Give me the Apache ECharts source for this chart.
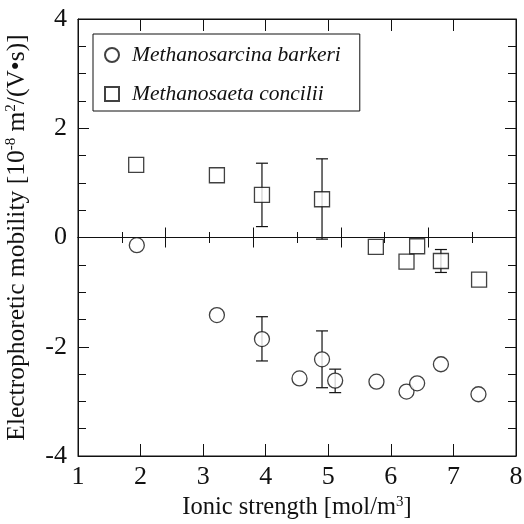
<!DOCTYPE html>
<html>
<head>
<meta charset="utf-8">
<script src="https://cdn.jsdelivr.net/npm/echarts@6/dist/echarts.min.js"></script>
<style>
  html, body { margin: 0; padding: 0; background: #fff; }
  #draw { width: 524px; height: 524px; }
</style>
</head>
<body>
<div id="draw"></div>
<script>
// values
var xTicks = [1, 2, 3, 4, 5, 6, 7, 8];
var yTicks = [-4, -2, 0, 2, 4];

var barkeriX = [1.94, 3.22, 3.94, 4.54, 4.90, 5.11, 5.77, 6.25, 6.42, 6.80, 7.40];
var barkeriY = [-0.14, -1.42, -1.86, -2.58, -2.23, -2.62, -2.64, -2.82, -2.67, -2.32, -2.87];
// [x, low, high]
var barkeriErr = [[3.94, -2.26, -1.45], [4.90, -2.75, -1.71], [5.11, -2.84, -2.41]];

var conciliiX = [1.93, 3.22, 3.94, 4.90, 5.76, 6.25, 6.42, 6.80, 7.41];
var conciliiY = [1.33, 1.14, 0.78, 0.70, -0.17, -0.44, -0.16, -0.43, -0.77];
var conciliiErr = [[3.94, 0.20, 1.36], [4.90, -0.03, 1.44], [6.80, -0.64, -0.22]];

var names = ['Methanosarcina barkeri', 'Methanosaeta concilii'];

var serif = 'Liberation Serif';
var black = '#111';

function pairs(xs, ys) {
	return xs.map(function(x, i) { return [x, ys[i]]; });
}

function renderBar(params, api) {
	var x = api.value(0);
	var lo = api.coord([x, api.value(1)]);
	var hi = api.coord([x, api.value(2)]);
	var w = 6;
	var st = { stroke: black, lineWidth: 1.2 };
	return {
		type: 'group',
		children: [
			{ type: 'line', shape: { x1: lo[0], y1: lo[1], x2: hi[0], y2: hi[1] }, style: st },
			{ type: 'line', shape: { x1: lo[0] - w, y1: lo[1], x2: lo[0] + w, y2: lo[1] }, style: st },
			{ type: 'line', shape: { x1: hi[0] - w, y1: hi[1], x2: hi[0] + w, y2: hi[1] }, style: st }
		]
	};
}

var supRich = {
	sup: { fontFamily: serif, fontSize: 15, lineHeight: 14, verticalAlign: 'top', color: black }
};

var lineSt = { color: black, width: 1 };

// frame axes (ticks inside), plus the two hidden-label axes drawn on y = 0
function frameX(pos, labels) {
	return {
		type: 'value', position: pos, min: xTicks[0], max: xTicks[xTicks.length - 1], interval: 1,
		axisLine: { show: true, onZero: false, lineStyle: lineSt },
		axisTick: { show: true, inside: true, length: 12, lineStyle: lineSt },
		axisLabel: { show: labels, fontFamily: serif, fontSize: 26, color: black, margin: 8 },
		splitLine: { show: false }
	};
}
function zeroX(pos) {
	return {
		type: 'value', position: pos, min: 0, max: 10, interval: 2,
		axisLine: { show: true, onZero: true, onZeroAxisIndex: 0, lineStyle: lineSt },
		axisTick: { show: true, inside: true, length: 10, lineStyle: lineSt },
		minorTick: { show: true, splitNumber: 2, length: 5.5, lineStyle: lineSt },
		axisLabel: { show: false },
		splitLine: { show: false }
	};
}
function frameY(pos, labels) {
	return {
		type: 'value', position: pos, min: yTicks[0], max: yTicks[yTicks.length - 1], interval: 2,
		axisLine: { show: true, onZero: false, lineStyle: lineSt },
		axisTick: { show: true, inside: true, length: 11, lineStyle: lineSt },
		minorTick: { show: true, splitNumber: 4, length: 8, lineStyle: lineSt },
		axisLabel: { show: labels, fontFamily: serif, fontSize: 26, color: black, margin: 11 },
		splitLine: { show: false }
	};
}

var xMain = frameX('bottom', true);
xMain.name = 'Ionic strength [mol/m{sup|3}]';
xMain.nameLocation = 'middle';
xMain.nameGap = 38;
xMain.nameTextStyle = { fontFamily: serif, fontSize: 24.5, color: black, rich: supRich };

var yMain = frameY('left', true);
yMain.name = 'Electrophoretic mobility [10{sup|-8} m{sup|2}/(V\u2022s)]';
yMain.nameLocation = 'middle';
yMain.nameRotate = 90;
yMain.nameGap = 48;
yMain.nameTextStyle = { fontFamily: serif, fontSize: 25.5, color: black, rich: supRich };

var markStyle = { color: '#fff', borderColor: black, borderWidth: 1.3 };

var myChart = echarts.init(document.getElementById('draw'));
option = {
	animation: false,
	backgroundColor: '#fff',
	grid: {
		left: 78, right: 8, top: 19, bottom: 68,
		outerBoundsMode: 'none',
		show: true, borderColor: black, borderWidth: 1
	},
	legend: {
		orient: 'vertical',
		left: 93,
		top: 34,
		padding: [10, 19, 6, 11],
		itemGap: 17,
		itemWidth: 14,
		itemHeight: 14,
		backgroundColor: '#fff',
		borderColor: black,
		borderWidth: 1,
		borderRadius: 0,
		data: [ { name: names[0], icon: 'circle' }, { name: names[1], icon: 'rect' } ],
		textStyle: { fontFamily: serif, fontStyle: 'italic', fontSize: 21.5, color: black, lineHeight: 21, padding: [0, 0, 0, 8] }
	},
	xAxis: [ xMain, frameX('top', false), zeroX('bottom'), zeroX('top') ],
	yAxis: [ yMain, frameY('right', false) ],
	series: [ {
		type: 'custom',
		name: 'errBarkeri',
		renderItem: renderBar,
		encode: { x: 0, y: [1, 2] },
		data: barkeriErr,
		z: 2
	}, {
		type: 'custom',
		name: 'errConcilii',
		renderItem: renderBar,
		encode: { x: 0, y: [1, 2] },
		data: conciliiErr,
		z: 2
	}, {
		type: 'scatter',
		name: names[0],
		symbol: 'circle',
		symbolSize: 15,
		itemStyle: markStyle,
		data: pairs(barkeriX, barkeriY),
		z: 3
	}, {
		type: 'scatter',
		name: names[1],
		symbol: 'rect',
		symbolSize: 15,
		itemStyle: markStyle,
		data: pairs(conciliiX, conciliiY),
		z: 3
	} ]
};
myChart.setOption(option);
</script>
</body>
</html>
